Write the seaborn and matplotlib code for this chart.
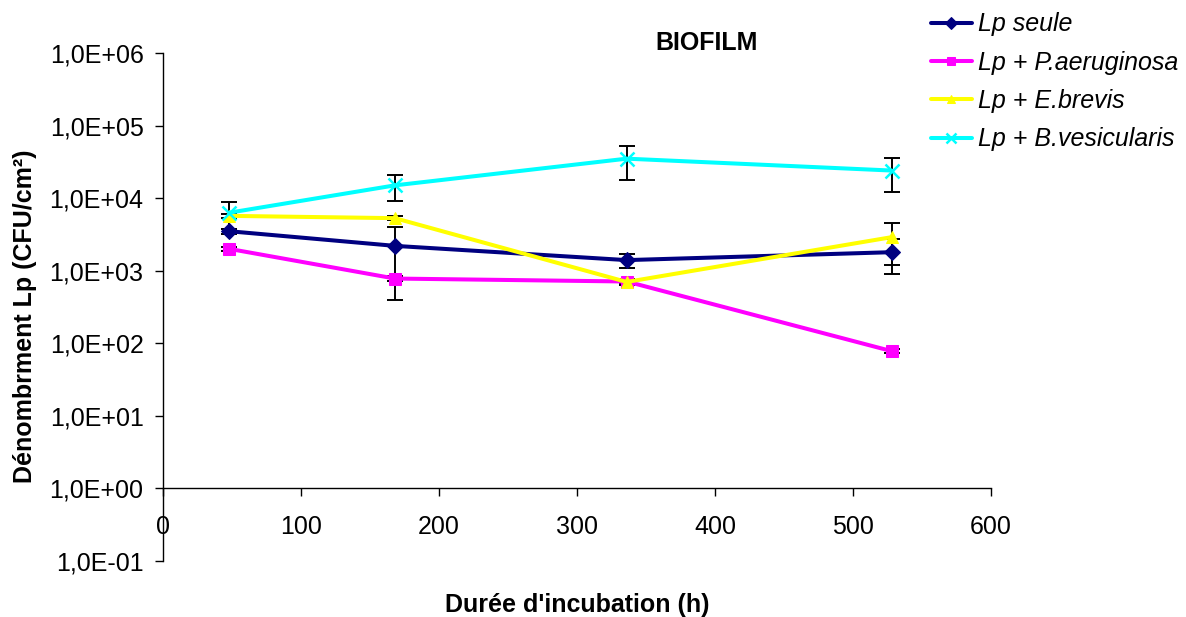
import matplotlib
matplotlib.use("Agg")
import matplotlib.pyplot as plt
import seaborn as sns
import numpy as np
import pandas as pd
from matplotlib.ticker import FixedLocator, FixedFormatter, NullLocator

# ---- data ----
hours = [48, 168, 336, 528]
series_names = ["Lp seule", "Lp + P.aeruginosa", "Lp + E.brevis", "Lp + B.vesicularis"]
lp_seule = [3500, 2200, 1400, 1800]
lp_seule_err = [300, 1800, 300, 900]
lp_paer = [2000, 780, 710, 78]
lp_paer_err = [150, 60, 50, 5]
lp_ebrev = [5700, 5300, 700, 2900]
lp_ebrev_err = [400, 300, 60, 1700]
lp_bves = [6300, 15000, 35000, 24000]
lp_bves_err = [2600, 6000, 17000, 12000]

colors = ["#000080", "#FF00FF", "#FFFF00", "#00FFFF"]
markers = ["D", "s", "^", "x"]

y_ticks = [0.1, 1, 10, 100, 1000, 10000, 100000, 1000000]
y_tick_labels = ["1,0E-01", "1,0E+00", "1,0E+01", "1,0E+02", "1,0E+03", "1,0E+04", "1,0E+05", "1,0E+06"]
x_ticks = [0, 100, 200, 300, 400, 500, 600]
x_tick_labels = ["0", "100", "200", "300", "400", "500", "600"]

values = [lp_seule, lp_paer, lp_ebrev, lp_bves]
errors = [lp_seule_err, lp_paer_err, lp_ebrev_err, lp_bves_err]

sns.set_style("white")
plt.rcParams["font.family"] = ["Liberation Sans", "DejaVu Sans"]
plt.rcParams["text.color"] = "black"
plt.rcParams["axes.labelcolor"] = "black"

fig = plt.figure(figsize=(11.86, 6.17), dpi=100)
ax = fig.add_axes([163/1186, 1-561/617, (991-163)/1186, (561-53)/617])

for name, vals, errs, c, m in zip(series_names, values, errors, colors, markers):
    ax.errorbar(hours, vals, yerr=errs, fmt="none", ecolor="black",
                elinewidth=1.4, capsize=6, capthick=1.4, zorder=3)
    df = pd.DataFrame({"t": hours, "v": vals})
    if m == "D":
        kw = dict(markersize=8)
    elif m == "x":
        kw = dict(markersize=10, markeredgewidth=1.8)
    else:
        kw = dict(markersize=8.5)
    sns.lineplot(data=df, x="t", y="v", ax=ax, color=c, marker=m,
                 markeredgecolor=c, linewidth=2.9, label=name, zorder=4, **kw)

ax.set_yscale("log")
ax.set_ylim(0.1, 1e6)
ax.set_xlim(0, 600)
ax.yaxis.set_major_locator(FixedLocator(y_ticks))
ax.yaxis.set_major_formatter(FixedFormatter(y_tick_labels))
ax.yaxis.set_minor_locator(NullLocator())
ax.xaxis.set_major_locator(FixedLocator(x_ticks))
ax.xaxis.set_major_formatter(FixedFormatter(x_tick_labels))

for s in ["top", "right"]:
    ax.spines[s].set_visible(False)
ax.spines["bottom"].set_position(("data", 1))
for s in ["left", "bottom"]:
    ax.spines[s].set_color("black")
    ax.spines[s].set_linewidth(1.0)

ax.tick_params(axis="y", direction="out", length=6, width=1, colors="black",
               labelsize=18, pad=8, left=True)
ax.tick_params(axis="x", direction="out", length=6, width=1, colors="black",
               labelsize=18, pad=13, bottom=True)
ax.set_xlabel("")
ax.set_ylabel("")
ax.grid(False)

fig.text(707/1186, 1-43/617, "BIOFILM", ha="center", va="center",
         fontsize=18, fontweight="bold", color="black")
fig.text(577/1186, 1-605/617, "Durée d'incubation (h)", ha="center", va="center",
         fontsize=18, fontweight="bold", color="black")
fig.text(25/1186, 1-316/617, "Dénombrment Lp (CFU/cm²)", ha="center", va="center",
         rotation=90, fontsize=18, fontweight="bold", color="black")

handles, labels = ax.get_legend_handles_labels()
leg = ax.legend(handles, labels, loc="upper left", bbox_to_anchor=(918/1186, 1.0),
                bbox_transform=fig.transFigure, frameon=False,
                prop={"style": "italic", "size": 18}, handlelength=1.64,
                handletextpad=0.28, labelspacing=0.57, borderaxespad=0.1,
                markerscale=0.75)
for t in leg.get_texts():
    t.set_color("black")

fig.savefig("out.png", dpi=100)
